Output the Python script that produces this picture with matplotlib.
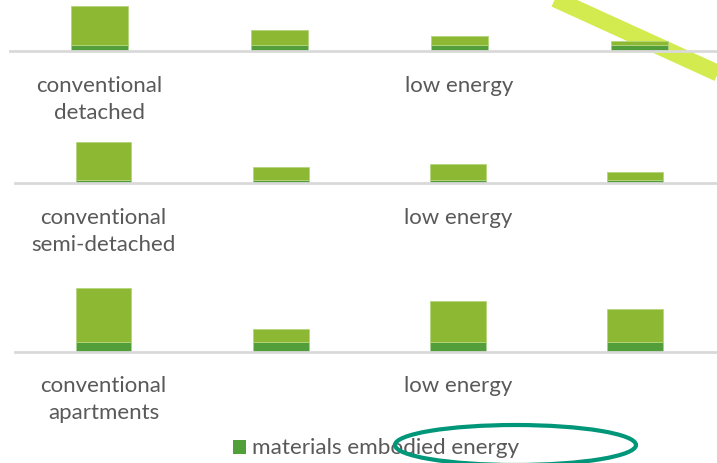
import matplotlib
matplotlib.use("Agg")
import matplotlib.pyplot as plt
from matplotlib.patches import Ellipse, Rectangle
from matplotlib.lines import Line2D

# ---- data (estimated, arbitrary units) ----
categories = ["conventional", "", "low energy", ""]
panel_names = ["detached", "semi-detached", "apartments"]
materials = [
    [6.0, 6.0, 6.0, 6.0],
    [3.6, 3.6, 3.6, 3.6],
    [10.0, 10.0, 10.0, 10.0],
]
totals = [
    [45.6, 21.6, 15.6, 10.0],
    [41.6, 16.6, 19.0, 11.6],
    [63.4, 22.7, 51.0, 42.7],
]
legend_label = "materials embodied energy"

W, H = 717, 464
fig = plt.figure(figsize=(W / 100, H / 100), dpi=100)
plt.rcParams['font.family'] = ['Lato', 'DejaVu Sans']

dark = "#519E3B"
light = "#8CB834"
txt = "#595959"

def fx(x):
    return x / W
def fy(y):
    return 1 - y / H

# decorative yellow-green band (behind chart)
band = Line2D([fx(530), fx(770)], [fy(-11.4), fy(98.0)], transform=fig.transFigure,
              color="#D4EB50", linewidth=12, solid_capstyle="butt", zorder=0)
fig.add_artist(band)

# panel layout: (left px, right px, baseline px, height px, ylim)
layouts = [
    (9.5, 729.5, 52.3, 50, 50),
    (14.8, 724.0, 184.3, 45, 45),
    (14.8, 724.0, 352.7, 66, 66),
]

for i, (l, r, base, hpx, ymax) in enumerate(layouts):
    ax = fig.add_axes([fx(l), fy(base), (r - l) / W, hpx / H])
    ax.patch.set_alpha(0)
    x = list(range(len(categories)))
    mat = materials[i]
    rest = [t - m for t, m in zip(totals[i], mat)]
    ax.bar(x, mat, width=0.315, color=dark, edgecolor="#A9CF8F", linewidth=0.6, zorder=3,
           label=legend_label)
    ax.bar(x, rest, bottom=mat, width=0.315, color=light, edgecolor="#B5D67A",
           linewidth=0.6, zorder=3)
    ax.set_xlim(-0.5, 3.5)
    ax.set_ylim(0, ymax)
    for s in ["top", "right", "left"]:
        ax.spines[s].set_visible(False)
    ax.spines["bottom"].set_color("#D9D9D9")
    ax.spines["bottom"].set_linewidth(2)
    ax.spines["bottom"].set_zorder(4)
    ax.set_yticks([])
    labels = [categories[0] + "\n" + panel_names[i], "", categories[2], ""]
    ax.set_xticks(x)
    ax.set_xticklabels(labels, fontsize=16, color=txt, linespacing=1.42)
    ax.tick_params(axis="x", length=0, pad=17)
    for lab in ax.get_xticklabels():
        lab.set_verticalalignment("top")

# legend
fig.add_artist(Rectangle((fx(233), fy(455)), 13 / W, 14 / H, transform=fig.transFigure,
                         facecolor=dark, edgecolor="none"))
fig.text(fx(252), fy(448), legend_label, fontsize=16.2, color=txt, va="center", ha="left")

# teal ellipse annotation (on top)
ell = Ellipse((fx(515.5), fy(446)), 241 / W, 40 / H, transform=fig.transFigure,
              fill=False, edgecolor="#00967A", linewidth=3, zorder=10)
fig.add_artist(ell)

fig.savefig("out.png", dpi=100)
